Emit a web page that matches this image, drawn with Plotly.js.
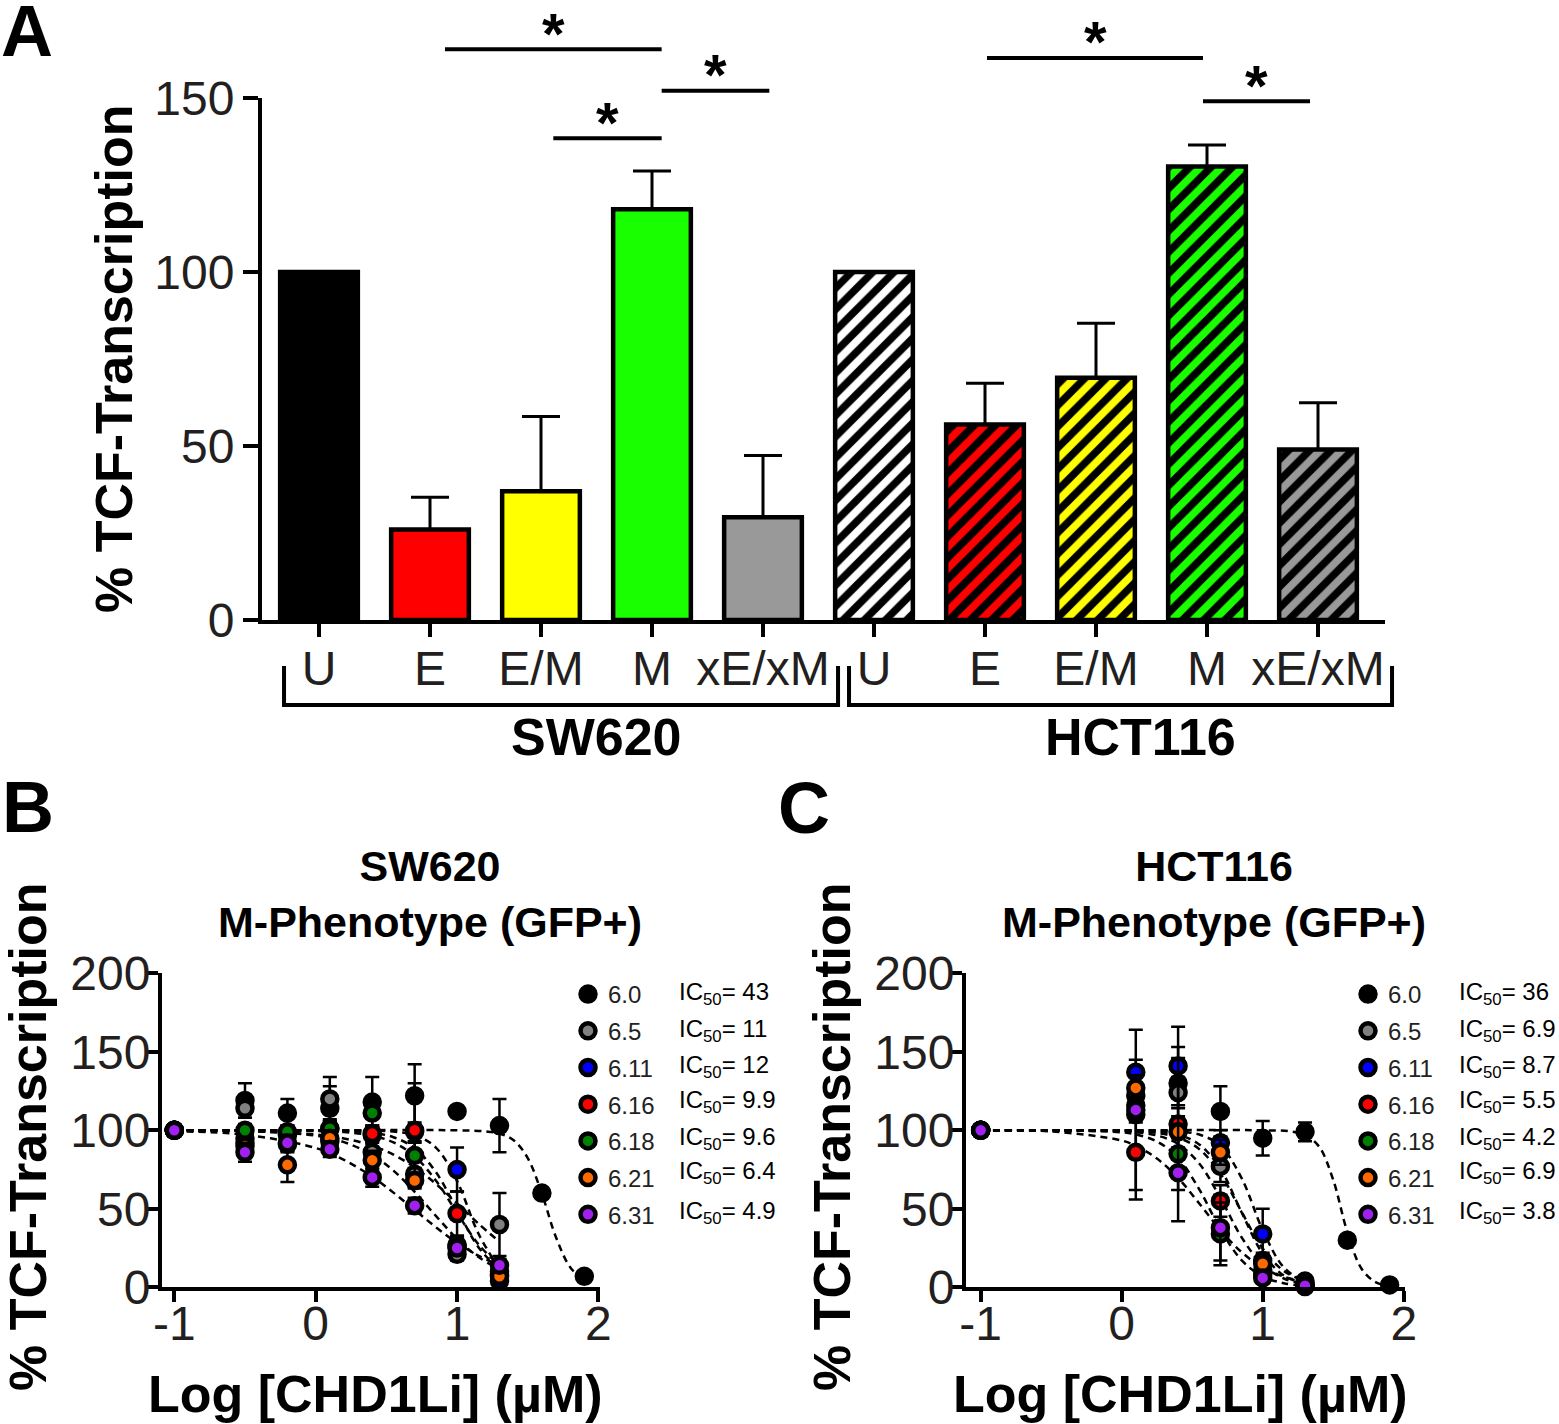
<!DOCTYPE html>
<html><head><meta charset="utf-8">
<script src="https://cdn.plot.ly/plotly-3.0.1.min.js"></script>
<style>html,body{margin:0;padding:0;background:#fff}#chart{width:1559px;height:1424px}</style>
</head><body><div id="chart"></div>
<script>
// ---------------- Panel A data ----------------
const barCategories = ['U', 'E', 'E/M', 'M', 'xE/xM'];
const cellLines = ['SW620', 'HCT116'];
const sw620Colors = ['#000000', '#ff0000', '#ffff00', '#1aff00', '#999999'];
const hct116Colors = ['#ffffff', '#ff0000', '#ffff00', '#1aff00', '#999999'];
const sw620Mean = [100, 26, 37, 118, 29.5];
const sw620Err = [0, 9.3, 21.5, 11, 17.8];
const hct116Mean = [100, 56.2, 69.6, 130.3, 49];
const hct116Err = [0, 11.8, 15.7, 6.2, 13.4];
// significance bars (category units / % units)
const sigFrom = [1.135, 2.111, 3.087, 6.018, 7.964];
const sigTo = [3.087, 3.087, 4.057, 7.964, 8.928];
const sigLevel = [164.0, 138.4, 152.1, 161.5, 149.1];
const sigText = ['*', '*', '*', '*', '*'];
// group brackets (category units)
const bracketFrom = [-0.315, 4.775];
const bracketTo = [4.676, 9.667];
const bracketLabelAt = [2.5, 7.405];

// ---------------- Panels B / C data ----------------
const compounds = ['6.0', '6.5', '6.11', '6.16', '6.18', '6.21', '6.31'];
const compoundColors = ['#000000', '#808080', '#0000ff', '#ff0000', '#008000', '#ff6a00', '#a020f0'];
const ic50SW620 = ['43', '11', '12', '9.9', '9.6', '6.4', '4.9'];
const ic50HCT116 = ['36', '6.9', '8.7', '5.5', '4.2', '6.9', '3.8'];

// measured points, log concentration (µM)
const doseB = [-1, -0.5, -0.2, 0.1, 0.4, 0.7, 1.0, 1.3, 1.6, 1.9];
const respB = [
  [100, 119, 111, 114, 118, 122, 112, 103, 60, 7],
  [100, 114, 98, 120, 86, 72, 21, 40],
  [100, 92, 97, 101, 97, 99, 75, 4],
  [100, 95, 91, 93, 98, 100, 47, 10],
  [100, 100, 99, 101, 111, 84, 27, 8],
  [100, 90, 78, 95, 81, 68, 26, 7],
  [100, 86, 92, 88, 70, 52, 25, 14]
];
const errB = [
  [0, 11, 9, 14, 16, 20, 0, 17, 0, 0],
  [0, 6, 5, 14, 8, 8, 4, 20],
  [0, 5, 4, 6, 5, 6, 14, 3],
  [0, 5, 5, 6, 5, 30, 14, 4],
  [0, 4, 4, 5, 8, 8, 5, 3],
  [0, 5, 11, 5, 6, 5, 5, 3],
  [0, 6, 5, 5, 6, 5, 4, 4]
];
const doseC = [-1, 0.1, 0.4, 0.7, 1.0, 1.3, 1.6, 1.9];
const respC = [
  [100, 110, 130, 112, 95, 99, 30, 1.5],
  [100, 122, 124, 77, 17, 4],
  [100, 137, 141, 92, 34, 0.5],
  [100, 86, 104, 55, 11, 1],
  [100, 116, 85, 34, 8, 1],
  [100, 127, 99, 86, 15, 2],
  [100, 113, 73, 38, 6, 1]
];
const errC = [
  [0, 54, 23, 16, 11, 6, 0, 0],
  [0, 8, 10, 10, 5, 2],
  [0, 8, 25, 8, 16, 1],
  [0, 24, 42, 10, 4, 1],
  [0, 8, 10, 20, 3, 1],
  [0, 8, 10, 8, 4, 1],
  [0, 8, 31, 21, 3, 1]
];

// fitted curves
const fitDoseBlack = [-1, 0, 1.0, 1.2, 1.3, 1.4, 1.5, 1.6, 1.7, 1.8, 1.9];
const fitDoseB = [-1, -0.5, 0, 0.2, 0.4, 0.55, 0.7, 0.85, 1.0, 1.15, 1.3];
const fitB = [
  [100, 100, 100, 99.3, 98, 93.7, 82.3, 59.6, 31.8, 12.8, 4.4],
  [100, 99.5, 97.3, 94.8, 90.1, 84.5, 76.4, 65.9, 53.5, 40.7, 29],
  [100, 100, 100, 100, 99.8, 99.2, 97.0, 89.0, 67.6, 34.4, 11.6],
  [100, 100, 99.9, 99.6, 98.4, 95.6, 88.6, 73.4, 49.5, 25.7, 11.0],
  [100, 100, 99.6, 98.9, 96.6, 92.3, 83.5, 68.0, 47.4, 27.5, 13.8],
  [100, 99.6, 96.6, 92.5, 84.3, 74.3, 60.8, 45.5, 30.9, 19.4, 11.4],
  [99.4, 97.2, 88.7, 81.2, 70.4, 60.3, 49.3, 38.3, 28.3, 20.2, 13.9]
];
const fitDoseC = [-1, -0.5, 0, 0.1, 0.25, 0.4, 0.55, 0.7, 0.85, 1.0, 1.15, 1.3];
const fitC = [
  [100, 100, 100, 99.3, 97, 89.6, 68.4, 35.2, 12, 3.3, 0.9],
  [100, 100, 99.9, 99.7, 99.1, 97.2, 91, 75.4, 47.8, 21.5, 7.5, 2.4],
  [100, 100, 100, 100, 99.9, 99.3, 97.3, 90.1, 69.6, 36.5, 12.6, 3.5],
  [100, 100, 99.4, 98.8, 96.7, 91.3, 78.8, 56.9, 31.9, 14.2, 5.6, 2.0],
  [100, 100, 98.7, 97.4, 92.9, 82.4, 62.4, 37.0, 17.3, 6.9, 2.6, 0.9],
  [100, 100, 99.7, 99.4, 98.3, 95.4, 88.0, 72.3, 48.1, 24.7, 10.4, 4.0],
  [99.9, 99.3, 93.5, 90.1, 82.0, 69.6, 53.4, 36.5, 22.4, 12.6, 6.8, 3.5]
];

// ---------------- layout geometry ----------------
const W = 1559, H = 1424;
const fx = p => p / W;
const fy = p => 1 - p / H;
const FONT = 'Liberation Sans, Arial, Helvetica, sans-serif';
const TXT = '#231f20';

const domAx = [fx(262), fx(1385)], domAy = [fy(620), fy(98)];
const rangeAx = [-0.5135, 9.6036], rangeAy = [0, 150];
const domBx = [fx(162), fx(600)], domBCy = [fy(1287.3), fy(973.3)];
const domCx = [fx(966), fx(1405)];
const rangeBx = [-1.087, 2.011], rangeCx = [-1.104, 2.009];

const aXtoPaper = v => domAx[0] + (v - rangeAx[0]) / (rangeAx[1] - rangeAx[0]) * (domAx[1] - domAx[0]);
const aYtoPaper = v => domAy[0] + (v - rangeAy[0]) / (rangeAy[1] - rangeAy[0]) * (domAy[1] - domAy[0]);

const idxSW = barCategories.map((_, i) => i);
const idxHCT = barCategories.map((_, i) => i + barCategories.length);

const traces = [];
traces.push({
  type: 'bar', x: idxSW, y: sw620Mean, width: 0.7, showlegend: false, name: cellLines[0],
  marker: { color: sw620Colors, line: { color: '#000', width: 4.5 } },
  error_y: { type: 'data', symmetric: false, array: sw620Err, arrayminus: sw620Err.map(() => 0), color: '#000', thickness: 3, width: 19 },
  xaxis: 'x', yaxis: 'y', cliponaxis: false
});
// hatched bars: single marker colour so the pattern keeps its own per-bar background
traces.push({
  type: 'bar', x: idxHCT, y: hct116Mean, width: 0.7, showlegend: false, name: cellLines[1],
  marker: {
    color: '#000000', line: { color: '#000', width: 4.5 },
    pattern: { shape: '/', bgcolor: hct116Colors, fgcolor: '#000000', fgopacity: 1, size: 15, solidity: 0.5, fillmode: 'replace' }
  },
  error_y: { type: 'data', symmetric: false, array: hct116Err, arrayminus: hct116Err.map(() => 0), color: '#000', thickness: 3, width: 19 },
  xaxis: 'x', yaxis: 'y', cliponaxis: false
});

function addDose(panel, dose, resp, err, fitDoseOthers, fit, xa, ya, legendId) {
  compounds.forEach((c, i) => {
    traces.push({
      type: 'scatter', mode: 'lines', x: i === 0 ? fitDoseBlack : fitDoseOthers, y: fit[i],
      line: { color: '#000', width: 2.5, dash: '7px,5px', shape: 'spline' },
      showlegend: false, hoverinfo: 'skip', xaxis: xa, yaxis: ya, cliponaxis: false,
      legendgroup: panel + c, legend: legendId
    });
  });
  compounds.forEach((c, i) => {
    traces.push({
      type: 'scatter', mode: 'markers', name: c, x: dose.slice(0, resp[i].length), y: resp[i],
      marker: { size: 15, color: compoundColors[i], line: { color: '#000', width: 4.5 } },
      error_y: { type: 'data', array: err[i], color: '#000', thickness: 2.5, width: 7 },
      xaxis: xa, yaxis: ya, cliponaxis: false, legendgroup: panel + c, legend: legendId
    });
  });
}
addDose('B', doseB, respB, errB, fitDoseB, fitB, 'x2', 'y2', 'legend');
addDose('C', doseC, respC, errC, fitDoseC, fitC, 'x3', 'y3', 'legend2');

const axBase = {
  showline: true, linecolor: '#000', linewidth: 4, ticks: 'outside', tickcolor: '#000', tickwidth: 4,
  showgrid: false, zeroline: false, fixedrange: true,
  tickfont: { family: FONT, size: 48, color: TXT }
};

const shapes = [];
sigFrom.forEach((s, i) => {
  shapes.push({ type: 'line', xref: 'x', yref: 'paper', x0: s, x1: sigTo[i], y0: aYtoPaper(sigLevel[i]), y1: aYtoPaper(sigLevel[i]), line: { color: '#000', width: 4 } });
});
const brTop = fy(666), brBot = fy(705);
bracketFrom.forEach((b, i) => {
  const x0 = aXtoPaper(b), x1 = aXtoPaper(bracketTo[i]);
  shapes.push({ type: 'path', xref: 'paper', yref: 'paper', path: `M${x0},${brTop} L${x0},${brBot} L${x1},${brBot} L${x1},${brTop}`, line: { color: '#000', width: 4 } });
});

const ann = [];
const bold = (t) => '<b>' + t + '</b>';
function txt(text, x, y, size, extra) {
  return Object.assign({ text, x: fx(x), y: fy(y), xref: 'paper', yref: 'paper', showarrow: false, xanchor: 'center', yanchor: 'middle', font: { family: FONT, size, color: '#000' } }, extra || {});
}
ann.push(txt(bold('A'), 27, 31, 72));
ann.push(txt(bold('B'), 28, 807, 72));
ann.push(txt(bold('C'), 804, 808, 72));
ann.push(txt(bold('% TCF-Transcription'), 114, 359, 52, { textangle: -90 }));
ann.push(txt(bold('% TCF-Transcription'), 28, 1137, 52, { textangle: -90 }));
ann.push(txt(bold('% TCF-Transcription'), 832, 1137, 52, { textangle: -90 }));
ann.push(txt(bold('Log [CHD1Li] (µM)'), 375.5, 1394, 52));
ann.push(txt(bold('Log [CHD1Li] (µM)'), 1180, 1394, 52));
ann.push(txt(bold(cellLines[0] + '<br>M-Phenotype (GFP+)'), 430, 894, 43));
ann.push(txt(bold(cellLines[1] + '<br>M-Phenotype (GFP+)'), 1214, 894, 43));
cellLines.forEach((cl, i) => {
  ann.push({ text: bold(cl), x: bracketLabelAt[i], xref: 'x', y: fy(736.5), yref: 'paper', showarrow: false, xanchor: 'center', yanchor: 'middle', font: { family: FONT, size: 52, color: '#000' } });
});
sigFrom.forEach((s, i) => {
  ann.push({ text: bold(sigText[i]), x: (s + sigTo[i]) / 2, xref: 'x', y: aYtoPaper(sigLevel[i]), yref: 'paper', yshift: 16, showarrow: false, xanchor: 'center', yanchor: 'middle', font: { family: FONT, size: 58, color: '#000' } });
});
const legendRows = [993, 1030, 1066, 1101, 1138, 1172, 1212];
compounds.forEach((c, i) => {
  ann.push(txt('IC<sub>50</sub>= ' + ic50SW620[i], 677, legendRows[i], 24, { xanchor: 'left', font: { family: FONT, size: 24, color: '#000' } }));
  ann.push(txt('IC<sub>50</sub>= ' + ic50HCT116[i], 1457, legendRows[i], 24, { xanchor: 'left', font: { family: FONT, size: 24, color: '#000' } }));
});

const legendBase = {
  xanchor: 'left', yanchor: 'top', bgcolor: 'rgba(0,0,0,0)', borderwidth: 0,
  font: { family: FONT, size: 24, color: '#222' }, traceorder: 'grouped', tracegroupgap: 2.5,
  itemclick: false, itemdoubleclick: false
};

const layout = {
  width: W, height: H, margin: { l: 0, r: 0, t: 0, b: 0 },
  paper_bgcolor: '#fff', plot_bgcolor: 'rgba(0,0,0,0)', font: { family: FONT, color: TXT },
  showlegend: true, barmode: 'overlay', hovermode: false,
  xaxis: Object.assign({}, axBase, { domain: domAx, range: rangeAx, tickvals: idxSW.concat(idxHCT), ticktext: barCategories.concat(barCategories), ticklen: 13, ticklabelstandoff: -10, anchor: 'y' }),
  yaxis: Object.assign({}, axBase, { domain: domAy, range: rangeAy, tickvals: [0, 50, 100, 150], ticklen: 15, ticklabelstandoff: -1, anchor: 'x' }),
  xaxis2: Object.assign({}, axBase, { domain: domBx, range: rangeBx, tickvals: [-1, 0, 1, 2], ticktext: ['-1', '0', '1', '2'], ticklen: 11, ticklabelstandoff: -20, anchor: 'y2' }),
  yaxis2: Object.assign({}, axBase, { domain: domBCy, range: [0, 200], tickvals: [0, 50, 100, 150, 200], ticklen: 12, ticklabelstandoff: -14, anchor: 'x2' }),
  xaxis3: Object.assign({}, axBase, { domain: domCx, range: rangeCx, tickvals: [-1, 0, 1, 2], ticktext: ['-1', '0', '1', '2'], ticklen: 11, ticklabelstandoff: -20, anchor: 'y3' }),
  yaxis3: Object.assign({}, axBase, { domain: domBCy, range: [0, 200], tickvals: [0, 50, 100, 150, 200], ticklen: 12, ticklabelstandoff: -14, anchor: 'x3' }),
  legend: Object.assign({}, legendBase, { x: fx(568), y: fy(972) }),
  legend2: Object.assign({}, legendBase, { x: fx(1348), y: fy(972) }),
  shapes, annotations: ann
};

Plotly.newPlot('chart', traces, layout, { displayModeBar: false, responsive: false });
</script>
</body></html>
